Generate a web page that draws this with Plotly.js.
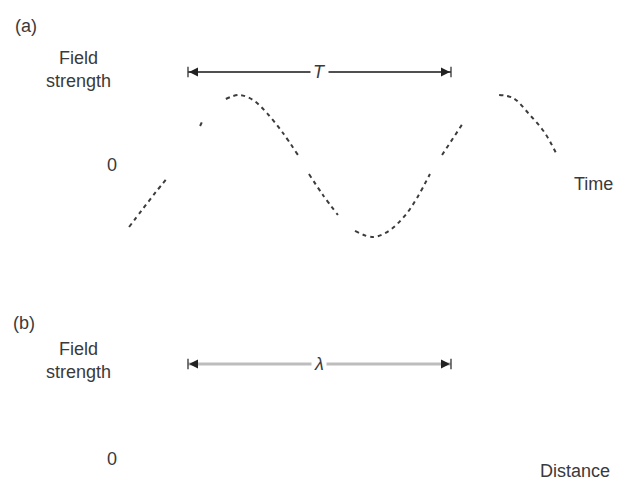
<!DOCTYPE html>
<html>
<head>
<meta charset="utf-8">
<script src="https://cdn.plot.ly/plotly-3.0.1.min.js"></script>
<style>html,body{margin:0;padding:0;background:#fff;}#chart{width:622px;height:481px;}</style>
</head>
<body>
<div id="chart"></div>
<script>
// Wave in panel (a): time in units of the period T, field strength normalised to amplitude 1.
// null marks the gaps visible in the printed dashed curve.
const waveTime = [-0.224, -0.175, -0.125, -0.076, null,
  0.046, 0.053, null,
  0.144, 0.194, 0.247, 0.300, 0.361, 0.418, null,
  0.460, 0.513, 0.570, null,
  0.635, 0.700, 0.757, 0.833, 0.920, null,
  0.966, 1.046, null,
  1.183, 1.236, 1.300, 1.357, 1.403];
const waveField = [-0.859, -0.620, -0.380, -0.155, null,
  0.563, 0.620, null,
  0.944, 1.000, 0.930, 0.746, 0.465, 0.155, null,
  -0.113, -0.408, -0.690, null,
  -0.915, -1.000, -0.930, -0.662, -0.113, null,
  0.155, 0.606, null,
  1.000, 0.958, 0.718, 0.465, 0.155];

// Span markers: one period T (panel a) and one wavelength λ (panel b)
const spanStart = [0, 0];
const spanEnd = [1, 1];
const spanLevel = [1.324, 1.338];
const spanLabels = ['<i>T</i>', '<i>λ</i>'];
const spanLineColors = ['#505050', '#bdbdbd'];
const spanLineWidths = [2, 3];

// Text labels
const panelLabels = ['(a)', '(b)'];
const yLabel = 'Field<br>strength';
const zeroLabel = '0';
const xLabels = ['Time', 'Distance'];

const FONT = 'Liberation Sans, Arial, sans-serif';
const TXT = '#3a3a3a';
const FS = 18;

const traces = [{
  x: waveTime, y: waveField, xaxis: 'x', yaxis: 'y',
  type: 'scatter', mode: 'lines', connectgaps: false,
  line: {color: '#3c3c3c', width: 2, dash: '4px,4px', shape: 'spline'},
  hoverinfo: 'skip', showlegend: false
}];

const yaxes = ['y', 'y2'];
const shapes = [];
const annotations = [];
const barHalf = 0.075;

for (let i = 0; i < 2; i++) {
  const ya = yaxes[i];
  shapes.push({type: 'line', xref: 'x', yref: ya, x0: spanStart[i], x1: spanEnd[i],
    y0: spanLevel[i], y1: spanLevel[i], line: {color: spanLineColors[i], width: spanLineWidths[i]}});
  [spanStart[i], spanEnd[i]].forEach(function (xv) {
    shapes.push({type: 'line', xref: 'x', yref: ya, x0: xv, x1: xv,
      y0: spanLevel[i] - barHalf, y1: spanLevel[i] + barHalf, line: {color: '#333', width: 1.3}});
  });
  annotations.push({x: spanStart[i], y: spanLevel[i], xref: 'x', yref: ya, text: '',
    showarrow: true, ax: 9, ay: 0, arrowhead: 2, arrowsize: 1, arrowwidth: 1.8, arrowcolor: '#222', standoff: 1});
  annotations.push({x: spanEnd[i], y: spanLevel[i], xref: 'x', yref: ya, text: '',
    showarrow: true, ax: -9, ay: 0, arrowhead: 2, arrowsize: 1, arrowwidth: 1.8, arrowcolor: '#222', standoff: 1});
  annotations.push({x: (spanStart[i] + spanEnd[i]) / 2, y: spanLevel[i], xref: 'x', yref: ya,
    text: spanLabels[i], showarrow: false, bgcolor: '#ffffff', borderpad: 2,
    font: {family: FONT, size: FS, color: TXT}});
}

const panelPos = [[-0.616, 1.972], [-0.624, 1.915]];
const yLabPos = [[-0.418, 1.366], [-0.418, 1.394]];
const zeroPos = [[-0.289, 0.01], [-0.289, 0.0]];
const xLabPos = [[1.540, -0.254], [1.471, -0.169]];

for (let i = 0; i < 2; i++) {
  const ya = yaxes[i];
  annotations.push({x: panelPos[i][0], y: panelPos[i][1], xref: 'x', yref: ya, text: panelLabels[i],
    showarrow: false, font: {family: FONT, size: FS, color: TXT}});
  annotations.push({x: yLabPos[i][0], y: yLabPos[i][1], xref: 'x', yref: ya, text: yLabel,
    showarrow: false, align: 'center', font: {family: FONT, size: FS, color: TXT}});
  annotations.push({x: zeroPos[i][0], y: zeroPos[i][1], xref: 'x', yref: ya, text: zeroLabel,
    showarrow: false, font: {family: FONT, size: FS, color: TXT}});
  annotations.push({x: xLabPos[i][0], y: xLabPos[i][1], xref: 'x', yref: ya, text: xLabels[i],
    showarrow: false, font: {family: FONT, size: FS, color: TXT}});
}

const hidden = {visible: false, showgrid: false, zeroline: false, showticklabels: false, fixedrange: true};

const layout = {
  width: 622, height: 481,
  margin: {l: 0, r: 0, t: 0, b: 0},
  paper_bgcolor: '#ffffff', plot_bgcolor: '#ffffff',
  showlegend: false,
  xaxis: Object.assign({range: [-0.7148, 1.6502], domain: [0, 1], anchor: 'y'}, hidden),
  yaxis: Object.assign({range: [-1.0493, 2.338], domain: [0.5, 1], anchor: 'x'}, hidden),
  yaxis2: Object.assign({range: [-0.3099, 3.0775], domain: [0, 0.5], anchor: 'x'}, hidden),
  shapes: shapes,
  annotations: annotations
};

Plotly.newPlot('chart', traces, layout, {staticPlot: true, displayModeBar: false});
</script>
</body>
</html>
